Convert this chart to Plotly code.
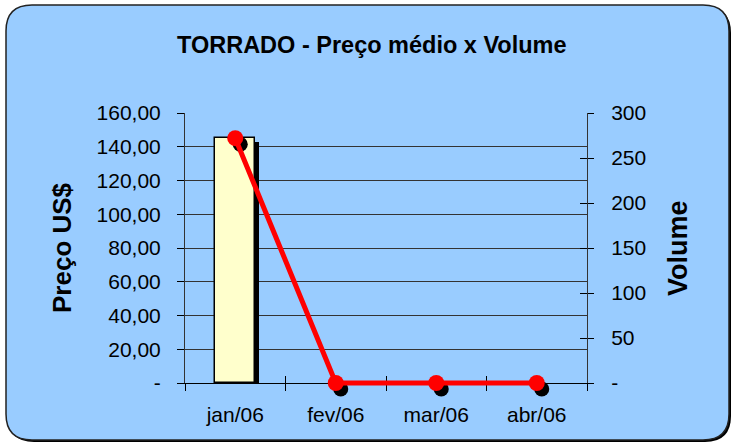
import plotly.graph_objects as go

# ---- data ----
categories = ["jan/06", "fev/06", "mar/06", "abr/06"]
preco = [145.3, None, None, None]       # Preço médio US$ (left axis)
volume = [272, 0, 0, 0]                 # Volume (right axis)
left_ticks = [0, 20, 40, 60, 80, 100, 120, 140, 160]
left_labels = ["-", "20,00", "40,00", "60,00", "80,00", "100,00", "120,00", "140,00", "160,00"]
right_ticks = [0, 50, 100, 150, 200, 250, 300]
right_labels = ["-", "50", "100", "150", "200", "250", "300"]

W, H = 732, 443
ML, MR, MT, MB = 185, 145, 113, 40
PW, PH = W - ML - MR, H - MT - MB        # 402 x 290
AXIS_Y = 383                             # pixel row of the category axis
EXTRA = (H - MB) - AXIS_Y                # 20 px below the axis inside plot area
MAIN_H = AXIS_Y - MT                     # 270 px for the value axes
BG = "#99CCFF"
FONT = "Arial, Liberation Sans, sans-serif"

def px(x):
    return (x - ML) / PW

def py(y):
    return (H - MB - y) / PH

def rrect(x0, y0, x1, y1, r):
    pts = [
        ("M", x0 + r, y0), ("L", x1 - r, y0), ("Q", x1, y0, x1, y0 + r),
        ("L", x1, y1 - r), ("Q", x1, y1, x1 - r, y1), ("L", x0 + r, y1),
        ("Q", x0, y1, x0, y1 - r), ("L", x0, y0 + r), ("Q", x0, y0, x0 + r, y0),
    ]
    s = ""
    for p in pts:
        if p[0] == "Q":
            s += f"Q{px(p[1]):.5f},{py(p[2]):.5f} {px(p[3]):.5f},{py(p[4]):.5f} "
        else:
            s += f"{p[0]}{px(p[1]):.5f},{py(p[2]):.5f} "
    return s + "Z"

xs = list(range(len(categories)))
unit_x = PW / 4.0
k2 = 300 / MAIN_H                         # volume units per pixel
bar_shift_x = 4 / unit_x
bar_shift_y = 4 * 160 / MAIN_H
mk_shift_x = 5 / unit_x
mk_shift_px = 6

fig = go.Figure()
# bar shadow
fig.add_trace(go.Bar(x=[x + bar_shift_x for x in xs], y=preco, base=-bar_shift_y,
                     width=0.4, marker=dict(color="black", line=dict(width=0)),
                     hoverinfo="skip", showlegend=False))
# bar
fig.add_trace(go.Bar(x=xs, y=preco, width=0.4,
                     marker=dict(color="#FFFFCC", line=dict(color="black", width=1.5)),
                     showlegend=False))
# placeholders so the tick-only overlay axes get drawn
fig.add_trace(go.Scatter(x=xs, y=[None] * len(xs), xaxis="x2", yaxis="y2",
                         mode="lines", hoverinfo="skip", showlegend=False))
fig.add_trace(go.Scatter(x=xs, y=[None] * len(xs), xaxis="x3", yaxis="y3",
                         mode="lines", hoverinfo="skip", showlegend=False))
# marker shadows (separate full-height subplot, shifted right/down)
fig.add_trace(go.Scatter(x=xs, y=volume, xaxis="x4", yaxis="y4", mode="markers",
                         marker=dict(color="black", size=15),
                         cliponaxis=False, hoverinfo="skip", showlegend=False))
# volume line
fig.add_trace(go.Scatter(x=xs, y=volume, xaxis="x5", yaxis="y5", mode="lines+markers",
                         line=dict(color="#FF0000", width=5),
                         marker=dict(color="#FF0000", size=16),
                         cliponaxis=False, showlegend=False))

axfont = dict(family=FONT, size=21, color="black")
bounds = [-0.5, 0.5, 1.5, 2.5, 3.5]
hidden = dict(visible=False, showgrid=False, zeroline=False)
main_dom = [EXTRA / PH, 1]

fig.update_layout(
    width=W, height=H,
    margin=dict(l=ML, r=MR, t=MT, b=MB),
    paper_bgcolor="white", plot_bgcolor="rgba(0,0,0,0)",
    barmode="overlay", bargap=0,
    font=dict(family=FONT, color="black"),
    xaxis=dict(range=[-0.5, 3.5], tickvals=xs, ticktext=categories, ticks="",
               showgrid=False, zeroline=False, showline=True, linecolor="black",
               linewidth=1, tickfont=axfont, ticklabelstandoff=13, anchor="y"),
    yaxis=dict(range=[0, 160], domain=main_dom, tickvals=left_ticks, ticktext=left_labels,
               ticks="outside", ticklen=7, tickcolor="black", tickfont=axfont,
               showgrid=True, gridcolor="#333333", gridwidth=1, zeroline=False,
               showline=True, linecolor="#333333", linewidth=1, ticklabelstandoff=12,
               anchor="x"),
    # boundary ticks below the axis + right value axis
    xaxis2=dict(overlaying="x", anchor="y", side="bottom", range=[-0.5, 3.5],
                tickvals=bounds, ticks="outside", ticklen=7, tickcolor="black",
                tickwidth=1, showticklabels=False, showgrid=False, zeroline=False),
    yaxis2=dict(overlaying="y", side="right", anchor="x", range=[0, 300],
                tickvals=right_ticks, ticktext=right_labels, ticks="outside",
                ticklen=6, tickcolor="black", tickfont=axfont, showgrid=False,
                zeroline=False, showline=True, linecolor="#333333", linewidth=1,
                ticklabelstandoff=13),
    # boundary ticks above the axis + inside ticks of right axis
    xaxis3=dict(overlaying="x", anchor="y", side="bottom", range=[-0.5, 3.5],
                tickvals=bounds, ticks="inside", ticklen=7, tickcolor="black",
                tickwidth=1, showticklabels=False, showgrid=False, zeroline=False),
    yaxis3=dict(overlaying="y", side="right", anchor="x", range=[0, 300],
                tickvals=right_ticks, ticks="inside", ticklen=7, tickcolor="black",
                showticklabels=False, showgrid=False, zeroline=False),
    # full-height hidden subplot for marker shadows and the line
    xaxis4=dict(domain=[0, 1], anchor="y4",
                range=[-0.5 - mk_shift_x, 3.5 - mk_shift_x], **hidden),
    yaxis4=dict(domain=[0, 1], anchor="x4",
                range=[-(EXTRA - mk_shift_px) * k2, 300 + mk_shift_px * k2], **hidden),
    xaxis5=dict(overlaying="x4", anchor="y5", range=[-0.5, 3.5], **hidden),
    yaxis5=dict(overlaying="y4", anchor="x5", range=[-EXTRA * k2, 300], **hidden),
    shapes=[
        dict(type="path", xref="paper", yref="paper", layer="below",
             path=rrect(8, 7, 731, 442, 26), fillcolor="black", line=dict(width=0)),
        dict(type="path", xref="paper", yref="paper", layer="below",
             path=rrect(6, 5, 729, 440, 26), fillcolor=BG,
             line=dict(color="#222222", width=1.5)),
    ],
    annotations=[
        dict(text="<b>TORRADO - Preço médio x Volume</b>", xref="paper", yref="paper",
             x=px(372), y=py(45), xanchor="center", yanchor="middle", showarrow=False,
             font=dict(family=FONT, size=23.5)),
        dict(text="<b>Preço US$</b>", xref="paper", yref="paper", x=px(62), y=py(248),
             xanchor="center", yanchor="middle", showarrow=False, textangle=-90,
             font=dict(family=FONT, size=26)),
        dict(text="<b>Volume</b>", xref="paper", yref="paper", x=px(678), y=py(248),
             xanchor="center", yanchor="middle", showarrow=False, textangle=-90,
             font=dict(family=FONT, size=27)),
    ],
)

fig.write_html("out.html", config={"displayModeBar": False},
               post_script="document.body.style.margin='0px';document.body.style.overflow='hidden';")
